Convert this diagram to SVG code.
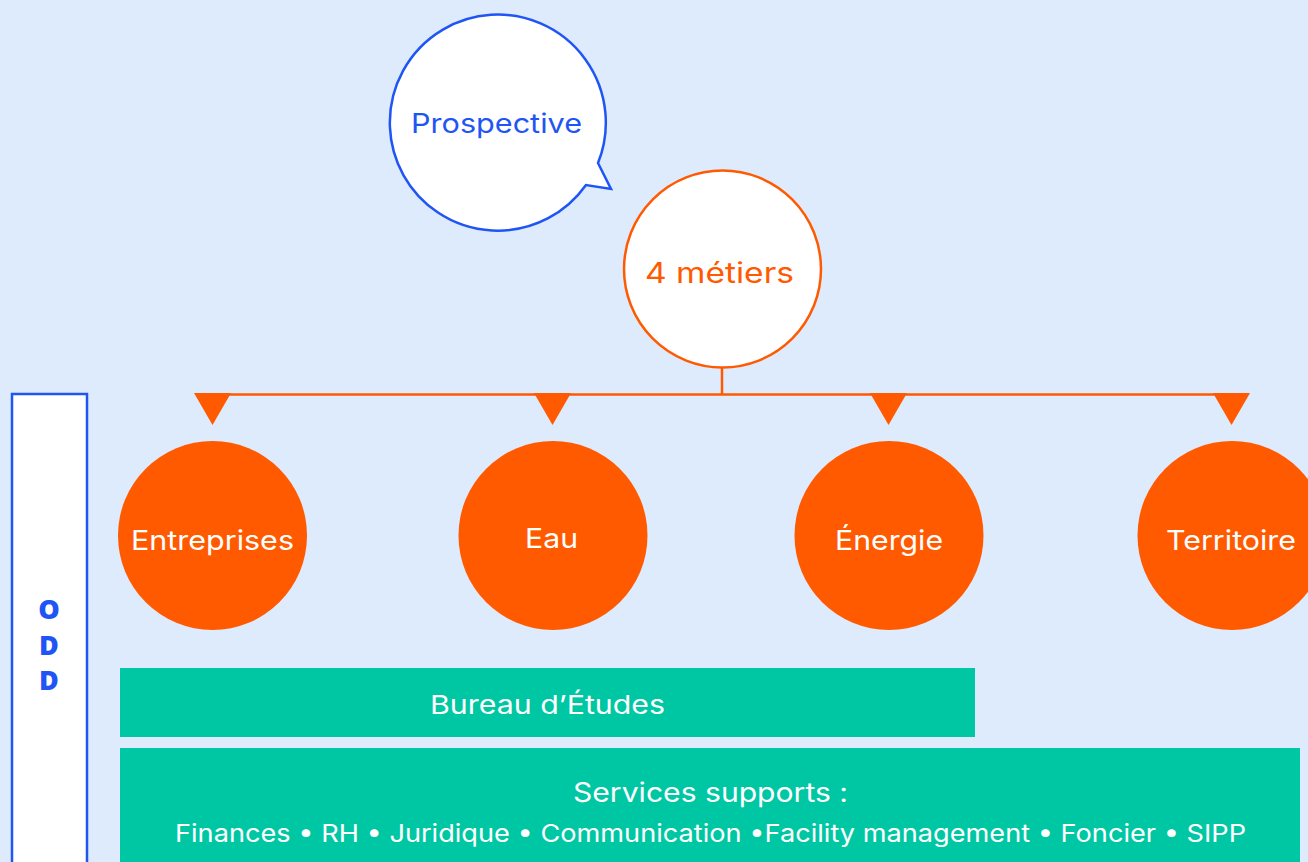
<svg xmlns="http://www.w3.org/2000/svg" width="1308" height="862" viewBox="0 0 1308 862">
  <defs>
    <style>
      .lbl { font-family: Inter, "Open Sans", "Liberation Sans", sans-serif; text-anchor: middle; font-weight: 400; }
      .heavy { font-family: "Open Sans", Inter, "Liberation Sans", sans-serif; font-weight: 800; }
      .white { fill: #ffffff; }
      .blue { fill: #1f55f5; }
      .orange { fill: #ff5a00; }
      .metier { fill: #ff5a00; }
      .bar { fill: #00c7a3; }
      .conn { stroke: #ff5a00; stroke-width: 2.5; fill: none; }
      .head { fill: #ff5a00; }
    </style>
  </defs>

  <!-- background -->
  <rect x="0" y="0" width="1308" height="862" fill="#deebfd"/>

  <!-- speech bubble -->
  <g id="prospective">
    <path d="M598,163 L611,189 L586,185 A108,108 0 1 1 598,163 Z" fill="#ffffff" stroke="#1f55f5" stroke-width="2.5" stroke-linejoin="miter"/>
    <text class="lbl blue" x="496.5" y="133" font-size="27" textLength="171" lengthAdjust="spacingAndGlyphs">Prospective</text>
  </g>

  <!-- central node -->
  <g id="quatre-metiers">
    <circle cx="722.5" cy="269" r="98.5" fill="#ffffff" stroke="#ff5a00" stroke-width="2.5"/>
    <text class="lbl orange" x="719.5" y="283" font-size="28.5" textLength="149" lengthAdjust="spacingAndGlyphs">4 métiers</text>
  </g>

  <!-- connectors -->
  <g id="connectors">
    <path class="conn" d="M722,368 V394.5 M212,394.5 H1232"/>
    <polygon class="head" points="194,393 231,393 212.5,425"/>
    <polygon class="head" points="534,393 571,393 552.5,425"/>
    <polygon class="head" points="870,393 907,393 888.5,425"/>
    <polygon class="head" points="1213,393 1250,393 1231.5,425"/>
  </g>

  <!-- ODD side panel -->
  <g id="odd">
    <rect x="12" y="394" width="75" height="480" fill="#ffffff" stroke="#1f55f5" stroke-width="2.5"/>
    <text class="lbl heavy blue" x="49" y="619" font-size="27">O</text>
    <text class="lbl heavy blue" x="49" y="655" font-size="27">D</text>
    <text class="lbl heavy blue" x="49" y="690" font-size="27">D</text>
  </g>

  <!-- business lines -->
  <g id="entreprises">
    <circle class="metier" cx="212.5" cy="535.5" r="94.5"/>
    <text class="lbl white" x="212.5" y="550" font-size="27.5" textLength="163" lengthAdjust="spacingAndGlyphs">Entreprises</text>
  </g>
  <g id="eau">
    <circle class="metier" cx="553" cy="535.5" r="94.5"/>
    <text class="lbl white" x="551.5" y="548" font-size="27.5" textLength="53" lengthAdjust="spacingAndGlyphs">Eau</text>
  </g>
  <g id="energie">
    <circle class="metier" cx="889" cy="535.5" r="94.5"/>
    <text class="lbl white" x="889" y="550" font-size="27.5" textLength="108" lengthAdjust="spacingAndGlyphs">Énergie</text>
  </g>
  <g id="territoire">
    <circle class="metier" cx="1232" cy="535.5" r="94.5"/>
    <text class="lbl white" x="1231" y="550" font-size="27.5" textLength="130" lengthAdjust="spacingAndGlyphs">Territoire</text>
  </g>

  <!-- bars -->
  <g id="bureau-etudes">
    <rect class="bar" x="120" y="668" width="855" height="69"/>
    <text class="lbl white" x="547.5" y="714" font-size="26" textLength="235" lengthAdjust="spacingAndGlyphs">Bureau d’Études</text>
  </g>
  <g id="services-supports">
    <rect class="bar" x="120" y="748" width="1180" height="120"/>
    <text class="lbl white" x="710.5" y="802" font-size="27" textLength="275" lengthAdjust="spacingAndGlyphs">Services supports :</text>
    <text class="lbl white" x="710.5" y="842" font-size="24.5" textLength="1071" lengthAdjust="spacingAndGlyphs">Finances • RH • Juridique • Communication •Facility management • Foncier • SIPP</text>
  </g>
</svg>
